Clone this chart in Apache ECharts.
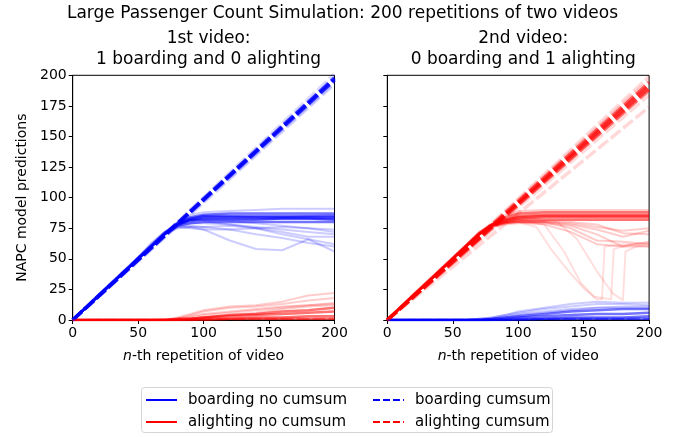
<!DOCTYPE html>
<html>
<head>
<meta charset="utf-8">
<script src="https://cdn.jsdelivr.net/npm/echarts@6/dist/echarts.min.js"></script>
<style>
html,body{margin:0;padding:0;background:#fff;}
#main{width:685px;height:437px;}
</style>
</head>
<body>
<div id="main"></div>
<script>
// ---------- data ----------
const xTicks = [0, 50, 100, 150, 200];
const yTicks = [0, 25, 50, 75, 100, 125, 150, 175, 200];
const xGrid = [0, 20, 40, 60, 70, 80, 90, 100, 120, 140, 160, 180, 200];

// left panel: 1 boarding and 0 alighting
const leftBoardingCore = [
  [0,20,40,60,70,79,84,86,87,87,87,87,87],
  [0,20,40,60,70,78,82,84,84,84,84,84,84],
  [0,20,40,60,70,78,81,82,82,82,83,83,83],
  [0,20,40,60,70,77,79,80,80,80,80,80,80],
  [0,20,40,60,70,78,82,83,83,83,83,83,82],
  [0,21,41,61,71,79,83,85,85,85,85,85,85]
];
const leftBoardingSpread = [
  [0,20,40,61,71,80,86,88,89,90,91,91,91],
  [0,20,40,62,72,76,75,74,74,75,76,75,74],
  [0,20,40,60,70,75,76,74,65,58,57,66,56],
  [0,20,40,60,70,76,77,76,74,70,67,63,60],
  [0,20,40,60,70,78,82,81,78,75,70,66,62],
  [0,20,40,63,72,77,76,76,77,75,72,68,68],
  [0,20,40,60,71,79,83,85,85,84,84,85,86],
  [0,20,40,60,70,77,79,79,78,76,74,72,70],
  [0,20,41,61,71,78,81,82,81,79,77,75,72]
];
const leftAlightingCore = [
  [0,0,0,0,0,0,1,2,3,4,5,6,7],
  [0,0,0,0,0,0,0,1,1,2,2,3,3],
  [0,0,0,0,0,1,1,2,4,5,7,8,10],
  [0,0,0,0,0,0,0,0,1,1,1,1,1]
];
const leftAlightingSpread = [
  [0,0,0,0,0,2,5,8,11,12,15,20,22],
  [0,0,0,0,0,1,4,7,10,11,13,16,18],
  [0,0,0,0,0,1,3,5,7,9,11,12,14],
  [0,0,0,0,0,1,2,4,6,8,10,12,13],
  [0,0,0,0,0,0,1,2,4,6,9,11,12]
];

// right panel: 0 boarding and 1 alighting
const rightBoardingCore = [
  [0,0,0,0,0,0,1,2,3,4,5,5,6],
  [0,0,0,0,0,0,0,1,1,2,2,2,3],
  [0,0,0,0,0,1,2,3,5,7,8,9,9],
  [0,0,0,0,0,0,0,0,1,1,1,1,1]
];
const rightBoardingSpread = [
  [0,0,0,0,1,2,4,7,10,13,15,14,14],
  [0,0,0,0,1,2,4,6,9,11,13,13,12],
  [0,0,0,0,0,1,3,5,7,9,10,11,11],
  [0,0,0,0,0,1,2,4,6,8,10,10,10]
];
const rightAlightingCore = [
  [0,20,40,60,70,78,84,87,88,88,88,88,88],
  [0,20,40,60,70,78,82,85,86,86,86,86,86],
  [0,20,40,60,70,77,81,83,84,84,84,84,84],
  [0,20,40,60,70,77,80,82,82,82,82,82,82],
  [0,21,41,61,71,78,82,84,85,85,85,85,85]
];
const rightAlightingSpread = [
  [0,20,40,61,71,79,86,89,90,90,90,90,90],
  [0,20,40,60,70,76,79,80,80,79,76,73,75],
  [0,20,40,60,70,77,80,81,80,75,65,64,62],
  [0,20,40,60,70,76,78,79,79,77,70,60,60],
  [0,20,40,61,72,78,80,80,78,72,62,60,64],
  [0,20,40,60,70,77,79,80,81,80,78,71,70],
  [0,20,40,60,70,76,79,80,80,78,74,68,73]
];
const rightDipX1 = [0,70,80,100,114,125,140,150,160,164,166,180,200];
const rightDipY1 = [0,70,78,80,76,58,38,26,17,17,60,62,60];
const rightDipX2 = [0,70,80,100,120,135,148,158,171,173,185,200];
const rightDipY2 = [0,70,78,82,78,56,30,19,17,58,62,63];
const rightDipX3 = [0,70,80,100,130,145,160,172,180,182,190,200];
const rightDipY3 = [0,70,78,81,80,66,40,22,16,56,60,62];

// cumulative-sum curves
const xCum = [0, 100, 200];
const leftBoardingCumCore = [[0,99,198],[0,98.5,197],[0,98,196]];
const leftBoardingCumSpread = [[0,100,201],[0,97,194],[0,96,193]];
const leftAlightingCum = [[0,0.5,1]];
const rightAlightingCumCore = [[0,96,192],[0,95,190],[0,94,188],[0,97,194]];
const rightAlightingCumSpread = [[0,99,199],[0,98,196],[0,92,184],[0,87,174]];
const rightBoardingCum = [[0,0.5,1]];

const legendSolid = ['boarding no cumsum', 'alighting no cumsum'];
const legendDashed = ['boarding cumsum', 'alighting cumsum'];

// ---------- build ----------
const BLUE = '#0000ff', RED = '#ff0000';
const FONT = 'DejaVu Sans';
const DASH = [12.5, 3.5];
const series = [];

function pairs(xs, ys) { return xs.map((x, i) => [x, ys[i]]); }
function addCurves(grid, xs, list, color, width, opacity, dashed) {
  list.forEach(ys => {
    series.push({
      type: 'line', xAxisIndex: grid, yAxisIndex: grid,
      data: pairs(xs, ys), showSymbol: false, symbol: 'none',
      silent: true, animation: false, clip: true,
      lineStyle: { color: color, width: width, opacity: opacity, type: dashed ? DASH : 'solid', dashOffset: 0 }
    });
  });
}

// left
addCurves(0, xGrid, leftBoardingSpread, BLUE, 2, 0.2, false);
addCurves(0, xGrid, leftBoardingCore, BLUE, 2.5, 0.55, false);
addCurves(0, xGrid, leftAlightingSpread, RED, 2, 0.2, false);
addCurves(0, xGrid, leftAlightingCore, RED, 2.5, 0.55, false);
addCurves(0, xCum, leftBoardingCumSpread, BLUE, 3.5, 0.15, true);
addCurves(0, xCum, leftBoardingCumCore, BLUE, 3.5, 0.7, true);
addCurves(0, xCum, leftAlightingCum, RED, 2, 0.4, true);
// right
addCurves(1, xGrid, rightBoardingSpread, BLUE, 2, 0.2, false);
addCurves(1, xGrid, rightBoardingCore, BLUE, 2.5, 0.55, false);
addCurves(1, xGrid, rightAlightingSpread, RED, 2, 0.2, false);
addCurves(1, xGrid, rightAlightingCore, RED, 2.5, 0.55, false);
addCurves(1, rightDipX1, [rightDipY1], RED, 2, 0.13, false);
addCurves(1, rightDipX2, [rightDipY2], RED, 2, 0.13, false);
addCurves(1, rightDipX3, [rightDipY3], RED, 2, 0.13, false);
addCurves(1, xCum, rightAlightingCumSpread, RED, 3.5, 0.15, true);
addCurves(1, xCum, rightAlightingCumCore, RED, 3.5, 0.6, true);
addCurves(1, xCum, rightBoardingCum, BLUE, 2, 0.4, true);

const gridLeft = [72.7, 387.3];
function xAxis(i) {
  return {
    type: 'value', gridIndex: i, min: 0, max: 200, interval: 50,
    name: '{i|n}-th repetition of video', nameLocation: 'middle', nameGap: 29,
    nameTextStyle: { fontSize: 14, color: '#000', fontFamily: FONT,
      rich: { i: { fontStyle: 'italic', fontSize: 14, color: '#000', fontFamily: FONT } } },
    axisLine: { show: true, lineStyle: { color: '#000', width: 1 } },
    axisTick: { show: true, length: 4, inside: false, lineStyle: { color: '#000', width: 1 } },
    axisLabel: { fontSize: 14, color: '#000', margin: 6, fontFamily: FONT },
    splitLine: { show: false }
  };
}
function yAxis(i) {
  return {
    type: 'value', gridIndex: i, min: 0, max: 200, interval: 25,
    name: i === 0 ? 'NAPC model predictions' : '', nameLocation: 'middle', nameGap: 43, nameRotate: 90,
    nameTextStyle: { fontSize: 14, color: '#000', fontFamily: FONT },
    axisLine: { show: true, lineStyle: { color: '#000', width: 1 } },
    axisTick: { show: true, length: 4, lineStyle: { color: '#000', width: 1 } },
    axisLabel: { show: i === 0, fontSize: 14, color: '#000', margin: 6, fontFamily: FONT },
    splitLine: { show: false }
  };
}

// legend drawn as graphic elements (two columns, matplotlib style)
const legendRows = [400, 422];
const legendCols = [146, 373];
const legendItems = [
  [legendSolid[0], BLUE, 'solid', 0, 0], [legendSolid[1], RED, 'solid', 0, 1],
  [legendDashed[0], BLUE, [7, 3], 1, 0], [legendDashed[1], RED, [7, 3], 1, 1]
];
const graphics = [
  { type: 'rect', z: 10, shape: { x: 141.5, y: 387.5, width: 411, height: 45, r: 3 },
    style: { fill: '#fff', stroke: '#d5d5d5', lineWidth: 1 } }
];
legendItems.forEach(it => {
  const x0 = legendCols[it[3]], y0 = legendRows[it[4]];
  graphics.push({ type: 'line', z: 11, shape: { x1: x0, y1: y0, x2: x0 + 31, y2: y0 },
    style: { stroke: it[1], lineWidth: 2, lineDash: it[2] === 'solid' ? null : it[2] } });
  graphics.push({ type: 'text', z: 11, x: x0 + 42, y: y0,
    style: { text: it[0], fill: '#000', font: '15px "DejaVu Sans"', textVerticalAlign: 'middle', verticalAlign: 'middle' } });
});

const chart = echarts.init(document.getElementById('main'), null, { renderer: 'canvas' });
chart.setOption({
  animation: false,
  backgroundColor: '#fff',
  textStyle: { fontFamily: FONT },
  title: [
    { text: 'Large Passenger Count Simulation: 200 repetitions of two videos', left: 'center', top: 0,
      textStyle: { fontSize: 17, fontWeight: 'normal', color: '#000', fontFamily: FONT } },
    { text: '1st video:\n1 boarding and 0 alighting', left: 203.6, textAlign: 'center', top: 23,
      textStyle: { fontSize: 17, fontWeight: 'normal', color: '#000', lineHeight: 21, fontFamily: FONT } },
    { text: '2nd video:\n0 boarding and 1 alighting', left: 518.2, textAlign: 'center', top: 23,
      textStyle: { fontSize: 17, fontWeight: 'normal', color: '#000', lineHeight: 21, fontFamily: FONT } }
  ],
  grid: gridLeft.map(l => ({ left: l, top: 75.3, width: 261.8, height: 244.7, show: true,
    borderColor: '#000', borderWidth: 1, backgroundColor: 'transparent', containLabel: false })),
  xAxis: [xAxis(0), xAxis(1)],
  yAxis: [yAxis(0), yAxis(1)],
  graphic: graphics,
  series: series
});
</script>
</body>
</html>
